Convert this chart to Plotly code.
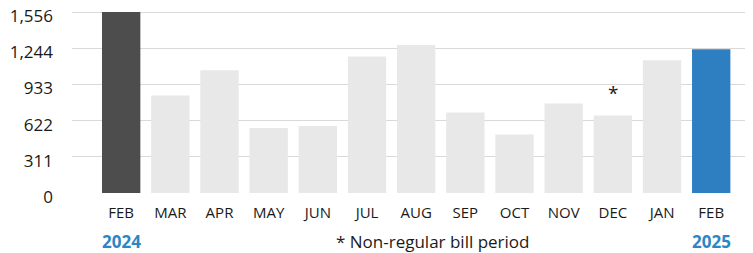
import plotly.graph_objects as go

months = ["FEB", "MAR", "APR", "MAY", "JUN", "JUL", "AUG", "SEP", "OCT", "NOV", "DEC", "JAN", "FEB"]
values = [1556, 838, 1055, 559, 576, 1173, 1273, 692, 504, 769, 666, 1141, 1236]
bar_colors = ["#4d4d4d"] + ["#e8e8e8"] * 11 + ["#2d7fc1"]
y_ticks = [0, 311, 622, 933, 1244, 1556]
y_tick_labels = ["0", "311", "622", "933", "1,244", "1,556"]
years = ["2024", "2025"]
note = "* Non-regular bill period"
flag_index = 10  # DEC: non-regular bill period

x_pos = list(range(len(months)))

fig = go.Figure(go.Bar(
    x=x_pos, y=values, marker=dict(color=bar_colors, line=dict(width=0)),
    width=0.78, hoverinfo="skip",
))

# page body has an 8px margin, so the figure is sized 8px smaller
font = "Open Sans"
fig.update_layout(
    width=745, height=245,
    margin=dict(l=64, r=0, t=3, b=60, autoexpand=False),
    paper_bgcolor="white", plot_bgcolor="white",
    showlegend=False,
    font=dict(family=font, color="#1a1a1a"),
    xaxis=dict(
        range=[-1.0, 12.85], tickmode="array", tickvals=x_pos, ticktext=months,
        showgrid=False, zeroline=False, showline=False, ticks="", automargin=False,
        tickfont=dict(size=15, color="#1a1a1a"), ticklabelstandoff=9,
    ),
    yaxis=dict(
        range=[0, 1565], tickmode="array", tickvals=y_ticks, ticktext=y_tick_labels,
        showgrid=True, gridcolor="#d9d9d9", gridwidth=1, zeroline=False, showline=False,
        ticks="", automargin=False, tickfont=dict(size=17, color="#1a1a1a"), ticklabelstandoff=18,
        ticklabeloverflow="allow", ticklabelshift=4,
    ),
    annotations=[
        dict(x=flag_index, y=values[flag_index], xref="x", yref="y", text="*",
             showarrow=False, yanchor="bottom", yshift=8, font=dict(size=19, color="#1a1a1a")),
        dict(x=0, y=-0.265, xref="x", yref="paper", text="<b>" + years[0] + "</b>",
             showarrow=False, yanchor="middle", font=dict(size=17, color="#2d86c4")),
        dict(x=12, y=-0.265, xref="x", yref="paper", text="<b>" + years[1] + "</b>",
             showarrow=False, yanchor="middle", font=dict(size=17, color="#2d86c4")),
        dict(x=6.34, y=-0.265, xref="x", yref="paper", text=note,
             showarrow=False, yanchor="middle", font=dict(size=17, color="#1a1a1a")),
    ],
)

fig.write_html("out.html")
